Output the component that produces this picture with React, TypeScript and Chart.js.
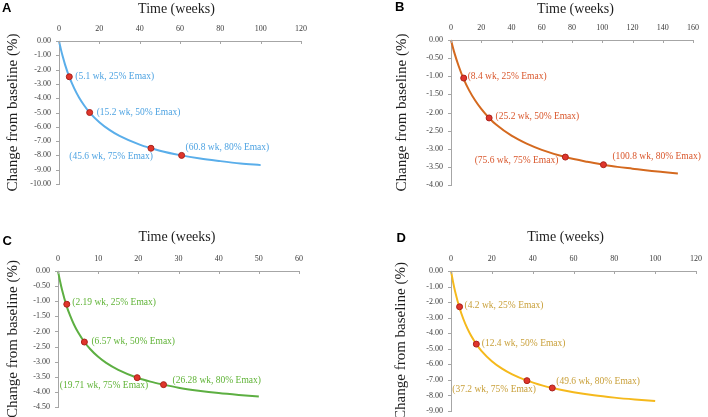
import React, { useEffect, useRef } from "react";
import { Chart, registerables } from "chart.js";

Chart.register(...registerables);

const X_TITLE = "Time (weeks)";
const Y_TITLE = "Change from baseline (%)";

// ---- Panel A ----
const weeksA = [0, 1, 2, 3, 5, 7.5, 10, 12.5, 15, 20, 25, 30, 40, 50, 60, 70, 80, 90, 100];
const changeA = [0, -0.62, -1.16, -1.65, -2.48, -3.3, -3.97, -4.51, -4.97, -5.68, -6.22, -6.64, -7.25, -7.67, -7.98, -8.22, -8.4, -8.56, -8.68];
const pointWeeksA = [5.1, 15.2, 45.6, 60.8];
const pointChangeA = [-2.5, -5.0, -7.5, -8.0];
const pointLabelsA = ["(5.1 wk, 25% Emax)", "(15.2 wk, 50% Emax)", "(45.6 wk, 75% Emax)", "(60.8 wk, 80% Emax)"];
const xTicksA = [0, 20, 40, 60, 80, 100, 120];
const yTicksA = [0, -1, -2, -3, -4, -5, -6, -7, -8, -9, -10];

// ---- Panel B ----
const weeksB = [0, 2, 5, 8.4, 12, 16, 20, 25.2, 30, 40, 50, 60, 75.6, 90, 100.8, 110, 120, 130, 140, 150];
const changeB = [0, -0.32, -0.71, -1.08, -1.39, -1.67, -1.9, -2.15, -2.34, -2.64, -2.86, -3.03, -3.23, -3.36, -3.44, -3.5, -3.55, -3.6, -3.64, -3.68];
const pointWeeksB = [8.4, 25.2, 75.6, 100.8];
const pointChangeB = [-1.05, -2.15, -3.23, -3.44];
const pointLabelsB = ["(8.4 wk, 25% Emax)", "(25.2 wk, 50% Emax)", "(75.6 wk, 75% Emax)", "(100.8 wk, 80% Emax)"];
const xTicksB = [0, 20, 40, 60, 80, 100, 120, 140, 160];
const yTicksB = [0, -0.5, -1, -1.5, -2, -2.5, -3, -3.5, -4];

// ---- Panel C ----
const weeksC = [0, 0.5, 1, 2.19, 3, 4, 5, 6.57, 8, 10, 12, 15, 19.71, 23, 26.28, 30, 35, 40, 45, 50];
const changeC = [0, -0.33, -0.62, -1.18, -1.47, -1.78, -2.03, -2.35, -2.58, -2.84, -3.04, -3.27, -3.53, -3.66, -3.76, -3.86, -3.96, -4.04, -4.1, -4.15];
const pointWeeksC = [2.19, 6.57, 19.71, 26.28];
const pointChangeC = [-1.1, -2.35, -3.53, -3.76];
const pointLabelsC = ["(2.19 wk, 25% Emax)", "(6.57 wk, 50% Emax)", "(19.71 wk, 75% Emax)", "(26.28 wk, 80% Emax)"];
const xTicksC = [0, 10, 20, 30, 40, 50, 60];
const yTicksC = [0, -0.5, -1, -1.5, -2, -2.5, -3, -3.5, -4, -4.5];

// ---- Panel D ----
const weeksD = [0, 1, 2, 4.2, 6, 8, 10, 12.4, 15, 20, 25, 30, 37.2, 45, 49.6, 60, 70, 80, 90, 100];
const changeD = [0, -0.7, -1.31, -2.38, -3.07, -3.69, -4.2, -4.7, -5.15, -5.8, -6.28, -6.65, -7.05, -7.37, -7.52, -7.79, -7.99, -8.14, -8.26, -8.36];
const pointWeeksD = [4.2, 12.4, 37.2, 49.6];
const pointChangeD = [-2.3, -4.7, -7.05, -7.52];
const pointLabelsD = ["(4.2 wk, 25% Emax)", "(12.4 wk, 50% Emax)", "(37.2 wk, 75% Emax)", "(49.6 wk, 80% Emax)"];
const xTicksD = [0, 20, 40, 60, 80, 100, 120];
const yTicksD = [0, -1, -2, -3, -4, -5, -6, -7, -8, -9];

const SERIF = "'Liberation Serif', 'Times New Roman', serif";
const SANS = "'Liberation Sans', Arial, sans-serif";
const AXIS = "#a6a6a6";
const TICK_TEXT = "#3c3c3c";
const TITLE_TEXT = "#1e1e1e";
const MARKER_FILL = "#e0352b";
const MARKER_BORDER = "#a9221a";

type Offset = [number, number, "left" | "right"];

interface Panel {
  letter: string;
  left: number;
  top: number;
  w: number;
  h: number;
  area: { l: number; t: number; r: number; b: number };
  color: string;
  labelColor: string;
  letterPos: [number, number];
  titlePos: [number, number];
  yTitleX: number;
  offsets: Offset[];
  weeks: number[];
  change: number[];
  pWeeks: number[];
  pChange: number[];
  pLabels: string[];
  xTicks: number[];
  yTicks: number[];
}

const panels: Panel[] = [
  {
    letter: "A", left: 0, top: 0, w: 354, h: 208,
    area: { l: 59, t: 41, r: 301, b: 184 },
    color: "#5aaeea", labelColor: "#4ea3e2",
    letterPos: [2, 12], titlePos: [176.5, 12.5], yTitleX: 13,
    offsets: [[6, 0, "left"], [7, 0, "left"], [2, 8, "right"], [4, -8, "left"]],
    weeks: weeksA, change: changeA, pWeeks: pointWeeksA, pChange: pointChangeA, pLabels: pointLabelsA,
    xTicks: xTicksA, yTicks: yTicksA,
  },
  {
    letter: "B", left: 354, top: 0, w: 354, h: 208,
    area: { l: 97, t: 40, r: 339, b: 185 },
    color: "#d4691f", labelColor: "#d9562b",
    letterPos: [41, 11], titlePos: [221.5, 12.5], yTitleX: 48,
    offsets: [[4, -2, "left"], [6.5, -1, "left"], [-7, 3, "right"], [9, -8, "left"]],
    weeks: weeksB, change: changeB, pWeeks: pointWeeksB, pChange: pointChangeB, pLabels: pointLabelsB,
    xTicks: xTicksB, yTicks: yTicksB,
  },
  {
    letter: "C", left: 0, top: 208, w: 354, h: 209,
    area: { l: 58, t: 63, r: 299, b: 199 },
    color: "#5daf42", labelColor: "#5fb336",
    letterPos: [2.5, 37], titlePos: [177, 32.5], yTitleX: 13,
    offsets: [[5.5, -2, "left"], [7, -1, "left"], [11, 8, "right"], [9, -4, "left"]],
    weeks: weeksC, change: changeC, pWeeks: pointWeeksC, pChange: pointChangeC, pLabels: pointLabelsC,
    xTicks: xTicksC, yTicks: yTicksC,
  },
  {
    letter: "D", left: 354, top: 208, w: 354, h: 209,
    area: { l: 97, t: 63, r: 342, b: 203 },
    color: "#f5b91c", labelColor: "#c9a03a",
    letterPos: [42.5, 34], titlePos: [211.6, 32.5], yTitleX: 47.5,
    offsets: [[5, -1, "left"], [5.5, -1, "left"], [9, 8.5, "right"], [4, -6, "left"]],
    weeks: weeksD, change: changeD, pWeeks: pointWeeksD, pChange: pointChangeD, pLabels: pointLabelsD,
    xTicks: xTicksD, yTicks: yTicksD,
  },
];

function PanelChart({ p }: { p: Panel }) {
  const ref = useRef<HTMLCanvasElement | null>(null);

  useEffect(() => {
    const canvas = ref.current;
    if (!canvas) return;
    const xMax = p.xTicks[p.xTicks.length - 1];
    const yMin = p.yTicks[p.yTicks.length - 1];
    const tickFont = { family: SERIF, size: 8 };

    const overlay = {
      id: "overlay" + p.letter,
      afterDraw(chart: any) {
        const ctx = chart.ctx as CanvasRenderingContext2D;
        const xs = chart.scales.x;
        const ys = chart.scales.y;
        const ca = chart.chartArea;
        ctx.save();
        // tick marks
        ctx.strokeStyle = AXIS;
        ctx.lineWidth = 1;
        ctx.beginPath();
        p.xTicks.forEach((v) => {
          const px = Math.round(xs.getPixelForValue(v)) + 0.5;
          ctx.moveTo(px, ca.top);
          ctx.lineTo(px, ca.top + 3);
        });
        p.yTicks.forEach((v) => {
          const py = Math.round(ys.getPixelForValue(v)) + 0.5;
          ctx.moveTo(ca.left - 3, py);
          ctx.lineTo(ca.left, py);
        });
        ctx.stroke();

        // panel letter
        ctx.fillStyle = "#000";
        ctx.font = `bold 13px ${SANS}`;
        ctx.textAlign = "left";
        ctx.textBaseline = "alphabetic";
        ctx.fillText(p.letter, p.letterPos[0], p.letterPos[1]);

        // x title
        ctx.fillStyle = TITLE_TEXT;
        ctx.font = `14px ${SERIF}`;
        ctx.textAlign = "center";
        ctx.fillText(X_TITLE, p.titlePos[0], p.titlePos[1]);

        // y title
        ctx.save();
        ctx.translate(p.yTitleX, (ca.top + ca.bottom) / 2);
        ctx.rotate(-Math.PI / 2);
        ctx.font = `15px ${SERIF}`;
        ctx.textAlign = "center";
        ctx.textBaseline = "middle";
        ctx.fillText(Y_TITLE, 0, 0);
        ctx.restore();

        // point annotations
        ctx.fillStyle = p.labelColor;
        ctx.font = `9.5px ${SERIF}`;
        ctx.textBaseline = "middle";
        p.pLabels.forEach((txt, i) => {
          const px = xs.getPixelForValue(p.pWeeks[i]);
          const py = ys.getPixelForValue(p.pChange[i]);
          const [dx, dy, al] = p.offsets[i];
          ctx.textAlign = al;
          ctx.fillText(txt, px + dx, py + dy);
        });
        ctx.restore();
      },
    };

    const chart = new Chart(canvas, {
      type: "line",
      data: {
        datasets: [
          {
            label: "markers",
            data: p.pWeeks.map((w, i) => ({ x: w, y: p.pChange[i] })),
            showLine: false,
            pointRadius: 3,
            pointBackgroundColor: MARKER_FILL,
            pointBorderColor: MARKER_BORDER,
            pointBorderWidth: 1,
            order: 0,
            clip: false,
          } as any,
          {
            label: "curve",
            data: p.weeks.map((w, i) => ({ x: w, y: p.change[i] })),
            borderColor: p.color,
            borderWidth: 2,
            pointRadius: 0,
            fill: false,
            cubicInterpolationMode: "monotone",
            order: 1,
            clip: false,
          } as any,
        ],
      },
      options: {
        animation: false,
        responsive: false,
        events: [],
        layout: {
          padding: { left: 0, top: 0, right: p.w - p.area.r, bottom: p.h - p.area.b },
        },
        plugins: { legend: { display: false }, tooltip: { enabled: false } },
        scales: {
          x: {
            type: "linear",
            position: "top",
            min: 0,
            max: xMax,
            afterBuildTicks: (s: any) => {
              s.ticks = p.xTicks.map((v) => ({ value: v }));
            },
            afterFit: (s: any) => {
              s.height = p.area.t;
              s.paddingLeft = 0;
              s.paddingRight = 0;
            },
            grid: { display: true, drawOnChartArea: false, drawTicks: false },
            border: { color: AXIS, width: 1 },
            ticks: {
              font: tickFont,
              color: TICK_TEXT,
              padding: 7,
              maxRotation: 0,
              autoSkip: false,
              callback: (v: any) => String(v),
            },
          },
          y: {
            type: "linear",
            min: yMin,
            max: 0,
            afterBuildTicks: (s: any) => {
              s.ticks = p.yTicks.map((v) => ({ value: v }));
            },
            afterFit: (s: any) => {
              s.width = p.area.l;
              s.paddingTop = 0;
              s.paddingBottom = 0;
            },
            grid: { display: true, drawOnChartArea: false, drawTicks: false },
            border: { color: AXIS, width: 1 },
            ticks: {
              font: tickFont,
              color: TICK_TEXT,
              padding: 8,
              autoSkip: false,
              callback: (v: any) => Number(v).toFixed(2),
            },
          },
        },
      } as any,
      plugins: [overlay as any],
    });
    return () => chart.destroy();
  }, [p]);

  return (
    <canvas
      ref={ref}
      width={p.w}
      height={p.h}
      style={{ position: "absolute", left: p.left, top: p.top, width: p.w, height: p.h }}
    />
  );
}

export default function App() {
  return (
    <div style={{ position: "absolute", left: 0, top: 0, width: 708, height: 417, background: "#fff", overflow: "hidden" }}>
      {panels.map((p) => (
        <PanelChart key={p.letter} p={p} />
      ))}
    </div>
  );
}
